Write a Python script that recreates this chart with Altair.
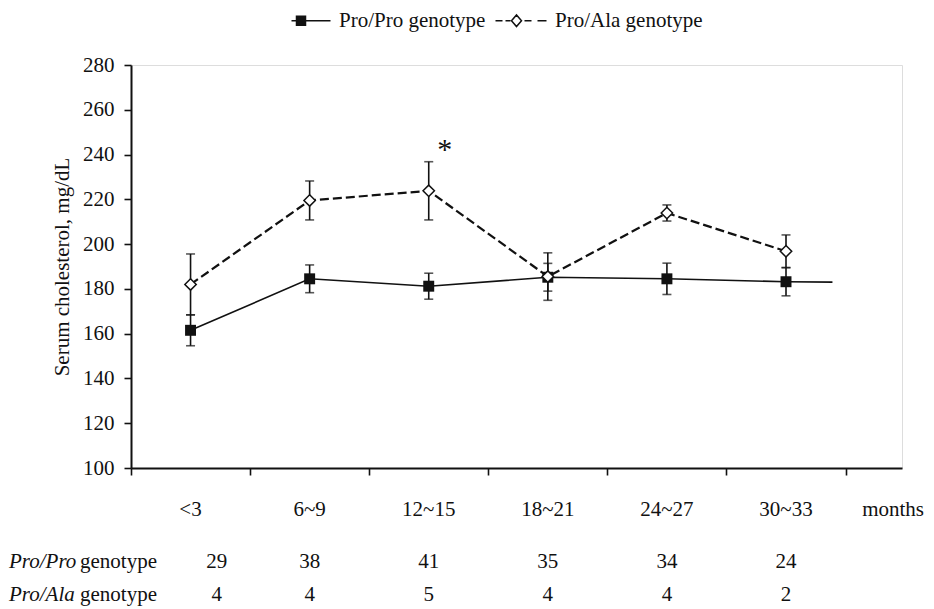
import altair as alt
import pandas as pd

# ---------------- data ----------------
months = ["<3", "6~9", "12~15", "18~21", "24~27", "30~33"]
series = ["Pro/Pro genotype", "Pro/Ala genotype"]

pro_pro_mean = [161.5, 184.5, 181.2, 185.2, 184.5, 183.2]
pro_pro_sd = [6.9, 6.2, 5.8, 6.2, 7.0, 6.3]
pro_ala_mean = [182.0, 219.5, 223.8, 185.5, 213.9, 196.8]
pro_ala_sd = [13.6, 8.7, 13.0, 10.6, 3.6, 7.3]

n_pro_pro = [29, 38, 41, 35, 34, 24]
n_pro_ala = [4, 4, 5, 4, 4, 2]

# the solid line runs on a little past the last visit in the original figure
pro_pro_tail_pos = [6.39]
pro_pro_tail_value = [183.0]

significant_visit = "12~15"
y_ticks = [100, 120, 140, 160, 180, 200, 220, 240, 260, 280]

# ---------------- tables ----------------
rows = []
for i, m in enumerate(months):
    rows.append({"pos": i + 1, "month": m, "genotype": series[0],
                 "mean": pro_pro_mean[i], "sd": pro_pro_sd[i], "n": n_pro_pro[i]})
for i, m in enumerate(months):
    rows.append({"pos": i + 1, "month": m, "genotype": series[1],
                 "mean": pro_ala_mean[i], "sd": pro_ala_sd[i], "n": n_pro_ala[i]})
df = pd.DataFrame(rows)
df["lo"] = df["mean"] - df["sd"]
df["hi"] = df["mean"] + df["sd"]

pp = df[df.genotype == series[0]]
pa = df[df.genotype == series[1]]
pp_line = pd.concat([pp[["pos", "mean"]],
                     pd.DataFrame({"pos": pro_pro_tail_pos, "mean": pro_pro_tail_value})])
star = pa[pa.month == significant_visit]
cats = pd.DataFrame({"pos": list(range(1, len(months) + 1)), "month": months})

FONT = "Liberation Serif"
FS = 21
BLACK = "#111111"

x_scale = alt.Scale(domain=[0.5, 6.974], nice=False, zero=False)
x_axis = alt.Axis(values=[0.5, 1.5, 2.5, 3.5, 4.5, 5.5, 6.5], labels=False, title=None,
                  grid=False, tickSize=7, tickWidth=1.6, domainWidth=2,
                  tickColor=BLACK, domainColor=BLACK)
y_scale = alt.Scale(domain=[100, 280], nice=False, zero=False)
y_axis = alt.Axis(values=y_ticks, title="Serum cholesterol, mg/dL", grid=False,
                  tickSize=7, tickWidth=1.6, domainWidth=2, tickColor=BLACK,
                  domainColor=BLACK, labelFont=FONT, labelFontSize=FS,
                  labelColor=BLACK, labelPadding=10, titleFont=FONT,
                  titleFontSize=FS, titleFontWeight="normal", titleColor=BLACK,
                  titlePadding=10)


def X(field="pos"):
    return alt.X(f"{field}:Q", scale=x_scale, axis=x_axis)


def Y(field):
    return alt.Y(f"{field}:Q", scale=y_scale, axis=y_axis)


# legend symbols: line + marker drawn as one custom path
pp_symbol = "M-6.8,0H1M-5.8,-0.9H-4V0.9H-5.8Z"
pa_symbol = ("M-9.2,0H-7.8M-7.2,0H-6.2M-3.4,0H-2M-0.8,0H1"
             "M-6,0L-5,-1.15L-4,0L-5,1.15Z")

legend = alt.Legend(title=None, orient="none", legendX=184, legendY=-55,
                    direction="horizontal", symbolSize=100, symbolOpacity=1,
                    symbolStrokeColor=BLACK, symbolStrokeWidth=1.5,
                    labelFont=FONT, labelFontSize=FS, labelColor=BLACK,
                    labelOffset=3, columnPadding=6, labelLimit=400, padding=0)

err = alt.Chart(df).mark_rule(color=BLACK, strokeWidth=1.6).encode(
    x=X(), y=Y("lo"), y2="hi:Q")
cap_lo = alt.Chart(df).mark_tick(orient="horizontal", size=9, thickness=1.6,
                                 color=BLACK).encode(x=X(), y=Y("lo"))
cap_hi = alt.Chart(df).mark_tick(orient="horizontal", size=9, thickness=1.6,
                                 color=BLACK).encode(x=X(), y=Y("hi"))

line_pp = alt.Chart(pp_line).mark_line(color=BLACK, strokeWidth=1.6).encode(
    x=X(), y=Y("mean"), order="pos:Q")
line_pa = alt.Chart(pa).mark_line(color=BLACK, strokeWidth=2.2,
                                  strokeDash=[9, 4]).encode(x=X(), y=Y("mean"))

pts_pp = alt.Chart(pp).mark_point(shape="square", filled=True, size=120,
                                  color=BLACK, opacity=1).encode(x=X(), y=Y("mean"))
pts_pa = alt.Chart(pa).mark_point(shape="diamond", filled=True, size=130,
                                  fill="white", stroke=BLACK, strokeWidth=1.5,
                                  opacity=1).encode(x=X(), y=Y("mean"))

legend_layer = alt.Chart(df).mark_point(filled=True, opacity=0, strokeWidth=1.5).encode(
    x=X(), y=Y("mean"),
    fill=alt.Fill("genotype:N", scale=alt.Scale(domain=series, range=[BLACK, "white"]),
                  legend=legend),
    stroke=alt.Stroke("genotype:N", scale=alt.Scale(domain=series, range=[BLACK, BLACK]),
                      legend=legend),
    shape=alt.Shape("genotype:N", scale=alt.Scale(domain=series, range=[pp_symbol, pa_symbol]),
                    legend=legend),
)

star_text = alt.Chart(star).mark_text(text="*", font=FONT, fontSize=30, color=BLACK,
                                      dx=16, dy=-12).encode(x=X(), y=Y("hi"))

cat_labels = alt.Chart(cats).mark_text(font=FONT, fontSize=FS, color=BLACK,
                                       baseline="middle").encode(
    x=X(), y=alt.value(445), text="month:N")
months_label = alt.Chart(pd.DataFrame({"t": ["months"]})).mark_text(
    font=FONT, fontSize=FS, color=BLACK, baseline="middle", align="right").encode(
    x=alt.value(793), y=alt.value(445), text="t:N")

counts_pp = alt.Chart(pp).transform_calculate(
    tx="datum.pos == 1 ? datum.pos + 0.22 : datum.pos").mark_text(
    font=FONT, fontSize=FS, color=BLACK, baseline="middle").encode(
    x=X("tx"), y=alt.value(497), text="n:Q")
counts_pa = alt.Chart(pa).transform_calculate(
    tx="datum.pos == 1 ? datum.pos + 0.22 : datum.pos").mark_text(
    font=FONT, fontSize=FS, color=BLACK, baseline="middle").encode(
    x=X("tx"), y=alt.value(530), text="n:Q")

row_names = pd.DataFrame({"g": ["Pro/Pro", "Pro/Ala"], "w": ["genotype", "genotype"],
                          "row": [0, 1]})
row_it_1 = alt.Chart(row_names[row_names.row == 0]).mark_text(
    font=FONT, fontSize=FS, fontStyle="italic", color=BLACK, align="left",
    baseline="middle").encode(x=alt.value(-122), y=alt.value(497), text="g:N")
row_it_2 = alt.Chart(row_names[row_names.row == 1]).mark_text(
    font=FONT, fontSize=FS, fontStyle="italic", color=BLACK, align="left",
    baseline="middle").encode(x=alt.value(-122), y=alt.value(530), text="g:N")
row_w_1 = alt.Chart(row_names[row_names.row == 0]).mark_text(
    font=FONT, fontSize=FS, color=BLACK, align="right",
    baseline="middle").encode(x=alt.value(26), y=alt.value(497), text="w:N")
row_w_2 = alt.Chart(row_names[row_names.row == 1]).mark_text(
    font=FONT, fontSize=FS, color=BLACK, align="right",
    baseline="middle").encode(x=alt.value(26), y=alt.value(530), text="w:N")

chart = alt.layer(
    err, cap_lo, cap_hi, line_pp, line_pa, pts_pp, pts_pa, legend_layer,
    star_text, cat_labels, months_label, counts_pp, counts_pa,
    row_it_1, row_it_2, row_w_1, row_w_2,
).properties(
    width=771, height=403,
    autosize=alt.AutoSizeParams(type="none"),
    padding={"left": 123, "top": 57, "right": 24, "bottom": 141},
).configure_view(stroke=None).configure(background="white")

chart.save("out.html", embed_options={"renderer": "svg", "actions": False})
